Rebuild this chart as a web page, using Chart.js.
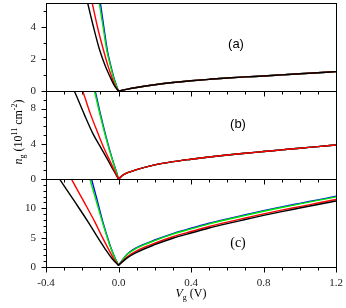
<!DOCTYPE html>
<html>
<head>
<meta charset="utf-8">
<script src="https://cdn.jsdelivr.net/npm/chart.js@4"></script>
<style>
  body { margin: 0; background: #fff; }
</style>
</head>
<body>
<canvas id="ngChart" width="346" height="308"></canvas>
<script>
// Tick labels
const xTicks = [-0.4, 0, 0.4, 0.8, 1.2];
const aTicks = [0, 2, 4];
const bTicks = [0, 4, 8];
const cTicks = [0, 5, 10];

// Panel (a): left branches (n shared, V per curve), right branch shared
const aLeftN = [7.0, 5.5, 4.0, 2.56, 1.6, 0.9, 0.3, 0];
const aBlackV = [-0.2, -0.17, -0.138, -0.104, -0.074, -0.047, -0.021, 0];
const aRedV = [-0.174, -0.145, -0.116, -0.083, -0.059, -0.038, -0.017, 0];
const aGreenV = [-0.125, -0.106, -0.085, -0.065, -0.045, -0.029, -0.011, 0];
const aBlueV = [-0.118, -0.1, -0.081, -0.062, -0.043, -0.027, -0.01, 0];
const aRightV = [0.05, 0.1, 0.2, 0.3, 0.4, 0.5, 0.6, 0.7, 0.8, 0.9, 1.0, 1.1, 1.2];
const aRightN = [0.12, 0.22, 0.39, 0.53, 0.64, 0.73, 0.81, 0.88, 0.94, 1.01, 1.08, 1.14, 1.21];

// Panel (b)
const bLeftN = [11.5, 10, 7.4, 5.07, 3.4, 2.05, 0.85, 0];
const bBlackV = [-0.28, -0.244, -0.19, -0.139, -0.093, -0.056, -0.024, 0];
const bRedV = [-0.23, -0.198, -0.155, -0.111, -0.078, -0.047, -0.02, 0];
const bGreenV = [-0.155, -0.133, -0.103, -0.0745, -0.052, -0.032, -0.013, 0];
const bBlueV = [-0.15, -0.129, -0.1, -0.072, -0.05, -0.031, -0.012, 0];
const bRightV = [0.025, 0.05, 0.1, 0.2, 0.3, 0.4, 0.5, 0.6, 0.7, 0.8, 0.9, 1.0, 1.1, 1.2];
const bRightN = [0.45, 0.72, 1.06, 1.6, 1.97, 2.25, 2.5, 2.73, 2.93, 3.12, 3.31, 3.5, 3.68, 3.87];

// Panel (c)
const cLeftN = [18.5, 14.9, 11.3, 7.65, 5.3, 3.1, 1.4, 0.3];
const cBlackV = [-0.4, -0.323, -0.245, -0.167, -0.12, -0.074, -0.035, 0];
const cRedV = [-0.32, -0.258, -0.194, -0.13, -0.093, -0.056, -0.026, 0];
const cGreenV = [-0.19, -0.157, -0.123, -0.089, -0.065, -0.041, -0.018, 0];
const cBlueV = [-0.18, -0.148, -0.117, -0.086, -0.063, -0.04, -0.017, 0];
const cRightV = [0.05, 0.1, 0.2, 0.3, 0.4, 0.5, 0.6, 0.7, 0.8, 0.9, 1.0, 1.1, 1.2];
const cBlackN = [1.6, 2.5, 3.8, 4.9, 5.8, 6.65, 7.4, 8.1, 8.8, 9.45, 10.05, 10.65, 11.25];
const cRedN = [1.8, 2.75, 4.05, 5.15, 6.05, 6.9, 7.65, 8.35, 9.05, 9.7, 10.3, 10.9, 11.5];
const cGreenN = [2.2, 3.2, 4.5, 5.6, 6.5, 7.35, 8.1, 8.8, 9.5, 10.15, 10.75, 11.35, 11.95];
const cBlueN = [2.25, 3.3, 4.6, 5.7, 6.6, 7.45, 8.2, 8.9, 9.6, 10.25, 10.85, 11.45, 12.05];

const colors = { black: '#000000', red: '#ff0000', green: '#00e600', blue: '#0000ff' };

// two branches meeting at V = 0, split by a gap so the minimum stays sharp
function points(leftV, leftN, rightV, rightN) {
    const pts = leftV.map((v, i) => ({ x: v, y: leftN[i] }));
    const last = pts[pts.length - 1];
    pts.push({ x: last.x, y: null });
    pts.push({ x: last.x, y: last.y });
    rightV.forEach((v, i) => pts.push({ x: v, y: rightN[i] }));
    return pts;
}

function line(axis, color, data) {
    return {
        yAxisID: axis,
        data: data,
        borderColor: colors[color],
        borderWidth: 1.4,
        borderCapStyle: 'round',
        pointRadius: 0,
        spanGaps: false,
        cubicInterpolationMode: 'monotone',
        clip: 0
    };
}

// first dataset is drawn on top
const datasets = [
    line('yA', 'black', points(aBlackV, aLeftN, aRightV, aRightN)),
    line('yA', 'red', points(aRedV, aLeftN, aRightV, aRightN)),
    line('yA', 'green', points(aGreenV, aLeftN, aRightV, aRightN)),
    line('yA', 'blue', points(aBlueV, aLeftN, aRightV, aRightN)),
    line('yB', 'red', points(bRedV, bLeftN, bRightV, bRightN)),
    line('yB', 'black', points(bBlackV, bLeftN, bRightV, bRightN)),
    line('yB', 'green', points(bGreenV, bLeftN, bRightV, bRightN)),
    line('yB', 'blue', points(bBlueV, bLeftN, bRightV, bRightN)),
    line('yC', 'black', points(cBlackV, cLeftN, cRightV, cBlackN)),
    line('yC', 'red', points(cRedV, cLeftN, cRightV, cRedN)),
    line('yC', 'green', points(cGreenV, cLeftN, cRightV, cGreenN)),
    line('yC', 'blue', points(cBlueV, cLeftN, cRightV, cBlueN))
];

const panels = [
    { id: 'yA', max: 5.5, major: 2, label: '(a)', font: '13px "Liberation Sans"', lx: 236, ly: 44 },
    { id: 'yB', max: 10, major: 4, label: '(b)', font: '13px "Liberation Sans"', lx: 238, ly: 124 },
    { id: 'yC', max: 15, major: 5, label: '(c)', font: '14px "Liberation Serif"', lx: 238, ly: 243 }
];

function noPad(s) {
    s.paddingTop = 0; s.paddingBottom = 0; s.paddingLeft = 0; s.paddingRight = 0;
}

function yScale(ticks, max, weight) {
    return {
        type: 'linear',
        position: 'left',
        stack: 'panels',
        stackWeight: 1,
        weight: weight,
        min: 0,
        max: max,
        afterBuildTicks: s => { s.ticks = ticks.map(v => ({ value: v })); },
        afterFit: s => { s.width = 30; noPad(s); },
        grid: { display: false, drawTicks: false },
        border: { display: false },
        ticks: {
            autoSkip: false,
            padding: 10,
            color: '#222',
            font: { family: 'Liberation Serif', size: 11 }
        }
    };
}

// rich text helper: segments of [text, font, dy]
function drawRich(ctx, segs, cx, cy) {
    let w = 0;
    segs.forEach(s => { ctx.font = s[1]; w += ctx.measureText(s[0]).width; });
    let x = cx - w / 2;
    segs.forEach(s => {
        ctx.font = s[1];
        ctx.fillText(s[0], x, cy + s[2]);
        x += ctx.measureText(s[0]).width;
    });
}

const framePlugin = {
    id: 'frame',
    afterDraw(chart) {
        const ctx = chart.ctx;
        const x = chart.scales.x;
        ctx.save();
        ctx.strokeStyle = '#000';
        ctx.fillStyle = '#000';
        ctx.lineWidth = 1;
        panels.forEach(p => {
            const y = chart.scales[p.id];
            const top = Math.round(y.top) + 0.5;
            const bottom = Math.round(y.bottom) + 0.5;
            const left = Math.round(x.left) + 0.5;
            const right = Math.round(x.right) + 0.5;
            ctx.strokeRect(left, top, right - left, bottom - top);
            ctx.beginPath();
            // y ticks (outward)
            for (let v = 0; v <= p.max; v++) {
                const py = Math.round(y.getPixelForValue(v)) + 0.5;
                const len = v % p.major === 0 ? 5 : 3;
                ctx.moveTo(left - len, py);
                ctx.lineTo(left, py);
            }
            // x ticks below each panel
            for (let k = 0; k <= 16; k++) {
                const px = Math.round(x.getPixelForValue(-0.4 + k * 0.1)) + 0.5;
                const len = k % 4 === 0 ? 5 : 3;
                ctx.moveTo(px, bottom);
                ctx.lineTo(px, bottom + len);
            }
            ctx.stroke();
            ctx.font = p.font;
            ctx.textAlign = 'center';
            ctx.textBaseline = 'middle';
            ctx.fillText(p.label, p.lx, p.ly);
        });

        // axis titles
        ctx.textAlign = 'left';
        ctx.textBaseline = 'alphabetic';
        const serif = '12px "Liberation Serif"';
        const serifIt = 'italic 12px "Liberation Serif"';
        const small = '8px "Liberation Serif"';
        drawRich(ctx, [
            ['V', serifIt, 0], ['g', small, 3], [' (V)', serif, 0]
        ], (x.left + x.right) / 2, 297);

        const area = chart.chartArea;
        ctx.translate(22, (area.top + area.bottom) / 2 - 3);
        ctx.rotate(-Math.PI / 2);
        drawRich(ctx, [
            ['n', serifIt, 0], ['g', small, 3], [' (10', serif, 0], ['11', small, -5],
            [' cm', serif, 0], ['-2', small, -5], [')', serif, 0]
        ], 0, 0);
        ctx.restore();
    }
};

new Chart(document.getElementById('ngChart'), {
    type: 'line',
    data: { datasets: datasets },
    options: {
        responsive: false,
        animation: false,
        layout: { padding: { left: 16, right: 10, top: 3, bottom: 0 } },
        plugins: { legend: { display: false }, tooltip: { enabled: false } },
        scales: {
            x: {
                type: 'linear',
                min: -0.4,
                max: 1.2,
                afterBuildTicks: s => { s.ticks = xTicks.map(v => ({ value: v })); },
                afterFit: s => { s.height = 41; noPad(s); },
                grid: { display: false, drawTicks: false },
                border: { display: false },
                ticks: {
                    autoSkip: false,
                    maxRotation: 0,
                    padding: 10,
                    color: '#222',
                    font: { family: 'Liberation Serif', size: 11 },
                    callback: v => v.toFixed(1)
                }
            },
            yC: yScale(cTicks, 15, 1),
            yB: yScale(bTicks, 10, 2),
            yA: yScale(aTicks, 5.5, 3)
        }
    },
    plugins: [framePlugin]
});
</script>
</body>
</html>
